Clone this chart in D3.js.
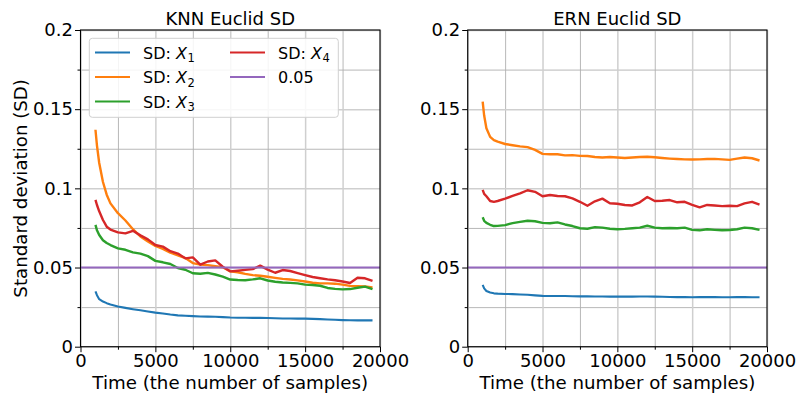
<!DOCTYPE html>
<html>
<head>
<meta charset="utf-8">
<script src="https://cdn.jsdelivr.net/npm/d3@7"></script>
<style>
  body { margin: 0; background: #fff; }
  svg { display: block; font-family: "DejaVu Sans", sans-serif; }
</style>
</head>
<body>
<div id="chart"></div>
<script>
// Data (time in samples, SD values)
const time = [1000, 1100, 1250, 1500, 1750, 2000, 2500, 3000, 3500, 4000, 4500, 5000, 5500, 6000, 6500, 7000,
  7500, 8000, 8500, 9000, 9500, 10000, 10500, 11000, 11500, 12000, 12500, 13000, 13500, 14000, 14500,
  15000, 15500, 16000, 16500, 17000, 17500, 18000, 18500, 19000, 19500];

const knnX1 = [0.0350, 0.0325, 0.0300, 0.0285, 0.0275, 0.0267, 0.0254, 0.0245, 0.0237, 0.0230, 0.0222, 0.0215,
  0.0210, 0.0203, 0.0198, 0.0195, 0.0193, 0.0191, 0.0190, 0.0189, 0.0187, 0.0184, 0.0183, 0.0183, 0.0182,
  0.0182, 0.0181, 0.0180, 0.0178, 0.0178, 0.0177, 0.0177, 0.0176, 0.0174, 0.0172, 0.0170, 0.0168, 0.0167,
  0.0166, 0.0167, 0.0166];
const knnX2 = [0.1370, 0.1270, 0.1160, 0.1040, 0.0960, 0.0905, 0.0843, 0.0797, 0.0742, 0.0696, 0.0665, 0.0636,
  0.0618, 0.0594, 0.0577, 0.0560, 0.0528, 0.0518, 0.0515, 0.0508, 0.0502, 0.0476, 0.0470, 0.0460, 0.0452,
  0.0448, 0.0442, 0.0435, 0.0428, 0.0424, 0.0419, 0.0412, 0.0404, 0.0400, 0.0400, 0.0398, 0.0392, 0.0384,
  0.0382, 0.0380, 0.0375];
const knnX3 = [0.0769, 0.0735, 0.0705, 0.0672, 0.0655, 0.0642, 0.0621, 0.0612, 0.0596, 0.0588, 0.0572, 0.0542,
  0.0533, 0.0522, 0.0497, 0.0486, 0.0464, 0.0461, 0.0466, 0.0456, 0.0442, 0.0424, 0.0421, 0.0420, 0.0425,
  0.0432, 0.0418, 0.0410, 0.0405, 0.0403, 0.0400, 0.0392, 0.0390, 0.0385, 0.0371, 0.0365, 0.0362, 0.0364,
  0.0372, 0.0379, 0.0363];
const knnX4 = [0.0927, 0.0895, 0.0855, 0.0800, 0.0758, 0.0740, 0.0722, 0.0716, 0.0732, 0.0703, 0.0678, 0.0642,
  0.0632, 0.0603, 0.0588, 0.0558, 0.0564, 0.0518, 0.0538, 0.0545, 0.0505, 0.0476, 0.0480, 0.0485, 0.0490,
  0.0512, 0.0487, 0.0467, 0.0484, 0.0478, 0.0465, 0.0452, 0.0440, 0.0432, 0.0425, 0.0420, 0.0412, 0.0402,
  0.0435, 0.0432, 0.0415];

const ernX1 = [0.0390, 0.0368, 0.0352, 0.0342, 0.0337, 0.0335, 0.0333, 0.0332, 0.0330, 0.0328, 0.0324, 0.0321,
  0.0320, 0.0320, 0.0320, 0.0319, 0.0318, 0.0318, 0.0317, 0.0317, 0.0316, 0.0316, 0.0316, 0.0316, 0.0317,
  0.0317, 0.0316, 0.0315, 0.0314, 0.0313, 0.0313, 0.0312, 0.0313, 0.0313, 0.0313, 0.0312, 0.0312, 0.0313,
  0.0313, 0.0312, 0.0312];
const ernX2 = [0.1548, 0.1460, 0.1380, 0.1325, 0.1305, 0.1295, 0.1280, 0.1272, 0.1265, 0.1260, 0.1243, 0.1218,
  0.1215, 0.1215, 0.1208, 0.1210, 0.1205, 0.1204, 0.1198, 0.1195, 0.1198, 0.1195, 0.1192, 0.1195, 0.1198,
  0.1200, 0.1196, 0.1192, 0.1188, 0.1185, 0.1183, 0.1182, 0.1183, 0.1185, 0.1186, 0.1183, 0.1180, 0.1188,
  0.1195, 0.1190, 0.1176];
const ernX3 = [0.0817, 0.0795, 0.0782, 0.0770, 0.0762, 0.0763, 0.0768, 0.0780, 0.0788, 0.0795, 0.0792, 0.0782,
  0.0780, 0.0785, 0.0772, 0.0762, 0.0748, 0.0745, 0.0755, 0.0752, 0.0745, 0.0742, 0.0744, 0.0748, 0.0752,
  0.0764, 0.0752, 0.0748, 0.0750, 0.0748, 0.0752, 0.0738, 0.0735, 0.0742, 0.0738, 0.0735, 0.0737, 0.0742,
  0.0752, 0.0748, 0.0738];
const ernX4 = [0.0990, 0.0965, 0.0950, 0.0920, 0.0915, 0.0920, 0.0935, 0.0952, 0.0968, 0.0988, 0.0978, 0.0950,
  0.0958, 0.0952, 0.0950, 0.0937, 0.0915, 0.0890, 0.0918, 0.0935, 0.0906, 0.0903, 0.0895, 0.0892, 0.0912,
  0.0945, 0.0920, 0.0922, 0.0926, 0.0912, 0.0915, 0.0896, 0.0880, 0.0895, 0.0892, 0.0888, 0.0890, 0.0888,
  0.0905, 0.0915, 0.0897];

const threshold = 0.05;
const seriesIndex = ['1', '2', '3', '4'];
const colors = ['#1f77b4', '#ff7f0e', '#2ca02c', '#d62728'];
const thresholdColor = '#9467bd';

const xTicks = [0, 5000, 10000, 15000, 20000];
const xTickLabels = ['0', '5000', '10000', '15000', '20000'];
const xMinorTicks = [2500, 7500, 12500, 17500];
const yTicks = [0, 0.05, 0.1, 0.15, 0.2];
const yTickLabels = ['0', '0.05', '0.1', '0.15', '0.2'];
const yMinorTicks = [0.025, 0.075, 0.125, 0.175];

const width = 797, height = 394;
const plotTop = 30, plotBottom = 346.7;

const panels = [
  { title: 'KNN Euclid SD', series: [knnX1, knnX2, knnX3, knnX4], x0: 80.5, x1: 380, legend: true, ylabel: true },
  { title: 'ERN Euclid SD', series: [ernX1, ernX2, ernX3, ernX4], x0: 467.7, x1: 767, legend: false, ylabel: false }
];

const svg = d3.select('#chart')
  .append('svg')
  .attr('width', width)
  .attr('height', height);

const y = d3.scaleLinear().domain([0, 0.2]).range([plotBottom, plotTop]);
const innerHeight = plotBottom - plotTop;

// strips the domain path and empty labels that grid / minor-tick axes leave behind
const bare = s => { s.select('.domain').remove(); s.selectAll('text').remove(); };

panels.forEach((p, pi) => {
  const x = d3.scaleLinear().domain([0, 20000]).range([p.x0, p.x1]);
  const innerWidth = p.x1 - p.x0;
  const g = svg.append('g');

  const clipId = `clip-${pi}`;
  svg.append('clipPath').attr('id', clipId)
    .append('rect')
    .attr('x', p.x0).attr('y', plotTop)
    .attr('width', innerWidth).attr('height', innerHeight);

  // Grid lines (minor then major)
  g.append('g')
    .attr('transform', `translate(0,${plotBottom})`)
    .call(d3.axisBottom(x).tickValues(xMinorTicks).tickSize(-innerHeight))
    .call(bare)
    .selectAll('line').attr('stroke', '#b0b0b0').attr('stroke-width', 0.9);
  g.append('g')
    .attr('transform', `translate(${p.x0},0)`)
    .call(d3.axisLeft(y).tickValues(yMinorTicks).tickSize(-innerWidth))
    .call(bare)
    .selectAll('line').attr('stroke', '#b0b0b0').attr('stroke-width', 0.9);
  g.append('g')
    .attr('transform', `translate(0,${plotBottom})`)
    .call(d3.axisBottom(x).tickValues(xTicks).tickSize(-innerHeight))
    .call(bare)
    .selectAll('line').attr('stroke', '#cfcfcf').attr('stroke-width', 1.5);
  g.append('g')
    .attr('transform', `translate(${p.x0},0)`)
    .call(d3.axisLeft(y).tickValues(yTicks).tickSize(-innerWidth))
    .call(bare)
    .selectAll('line').attr('stroke', '#cfcfcf').attr('stroke-width', 1.5);

  // Series lines
  const line = d3.line()
    .x((d, i) => x(time[i]))
    .y(d => y(d));

  const plot = g.append('g').attr('clip-path', `url(#${clipId})`);
  p.series.forEach((values, si) => {
    plot.append('path')
      .datum(values)
      .attr('fill', 'none')
      .attr('stroke', colors[si])
      .attr('stroke-width', si === 0 ? 2.1 : 2.4)
      .attr('stroke-linejoin', 'round')
      .attr('d', line);
  });

  // Threshold line
  plot.append('line')
    .attr('x1', p.x0).attr('x2', p.x1)
    .attr('y1', y(threshold)).attr('y2', y(threshold))
    .attr('stroke', thresholdColor)
    .attr('stroke-width', 2.1);

  // X Axis
  const xAxis = g.append('g')
    .attr('class', 'axis')
    .attr('transform', `translate(0,${plotBottom})`)
    .call(d3.axisBottom(x).tickValues(xTicks).tickSize(5.5).tickPadding(1.8).tickSizeOuter(0)
      .tickFormat((d, i) => xTickLabels[i]));
  xAxis.append('g')
    .call(d3.axisBottom(x).tickValues(xMinorTicks).tickSize(3))
    .call(bare);

  // Y Axis
  const yAxis = g.append('g')
    .attr('class', 'axis')
    .attr('transform', `translate(${p.x0},0)`)
    .call(d3.axisLeft(y).tickValues(yTicks).tickSize(5.5).tickPadding(2).tickSizeOuter(0)
      .tickFormat((d, i) => yTickLabels[i]));
  yAxis.append('g')
    .call(d3.axisLeft(y).tickValues(yMinorTicks).tickSize(3))
    .call(bare);

  g.selectAll('.axis .tick text')
    .attr('font-family', '"DejaVu Sans", sans-serif')
    .attr('font-size', 18)
    .attr('fill', '#000');
  g.selectAll('.axis .tick line')
    .attr('stroke', '#000')
    .attr('stroke-width', 1);

  // Frame
  g.selectAll('.domain').remove();
  g.append('rect')
    .attr('x', p.x0).attr('y', plotTop)
    .attr('width', innerWidth).attr('height', innerHeight)
    .attr('fill', 'none')
    .attr('stroke', '#000')
    .attr('stroke-width', 1.1);

  // Title
  g.append('text')
    .attr('x', (p.x0 + p.x1) / 2)
    .attr('y', 25)
    .attr('text-anchor', 'middle')
    .attr('font-size', 18)
    .text(p.title);

  // X label
  g.append('text')
    .attr('x', (p.x0 + p.x1) / 2)
    .attr('y', 388.5)
    .attr('text-anchor', 'middle')
    .attr('font-size', 18.2)
    .text('Time (the number of samples)');

  if (p.ylabel) {
    g.append('text')
      .attr('transform', `translate(26.5,${(plotTop + plotBottom) / 2}) rotate(-90)`)
      .attr('text-anchor', 'middle')
      .attr('font-size', 18.2)
      .text('Standard deviation (SD)');
  }

  if (p.legend) {
    const lg = g.append('g');
    lg.append('rect')
      .attr('x', 89.3).attr('y', 38.3)
      .attr('width', 249).attr('height', 79)
      .attr('rx', 3)
      .attr('fill', '#fff')
      .attr('fill-opacity', 0.85)
      .attr('stroke', '#d0d0d0')
      .attr('stroke-width', 1);

    const items = seriesIndex.map((s, i) => ({ label: s, color: colors[i] }))
      .concat([{ label: null, text: String(threshold), color: thresholdColor }]);
    const rowY = [52.5, 77, 101.5];
    const pos = [[0, 0], [0, 1], [0, 2], [1, 0], [1, 1]];
    const colX = [95, 230];

    items.forEach((it, i) => {
      const [c, r] = pos[i];
      const ly = rowY[r];
      const tx = colX[c] + 48;
      lg.append('line')
        .attr('x1', colX[c]).attr('x2', colX[c] + 35)
        .attr('y1', ly).attr('y2', ly)
        .attr('stroke', it.color)
        .attr('stroke-width', 2.1);
      if (it.label) {
        // "SD: X_i" laid out as separate texts (prefix, italic X, subscript)
        const pre = lg.append('text')
          .attr('x', tx).attr('y', ly + 6)
          .attr('font-size', 16)
          .text('SD:');
        const xPos = tx + pre.node().getComputedTextLength() + 5.1;
        const sym = lg.append('text')
          .attr('x', xPos).attr('y', ly + 6)
          .attr('font-size', 16)
          .attr('font-style', 'italic')
          .text('X');
        lg.append('text')
          .attr('x', xPos + sym.node().getComputedTextLength() + 0.5)
          .attr('y', ly + 9.5)
          .attr('font-size', 11.5)
          .text(it.label);
      } else {
        lg.append('text')
          .attr('x', tx).attr('y', ly + 6)
          .attr('font-size', 16)
          .text(it.text);
      }
    });
  }
});
</script>
</body>
</html>
